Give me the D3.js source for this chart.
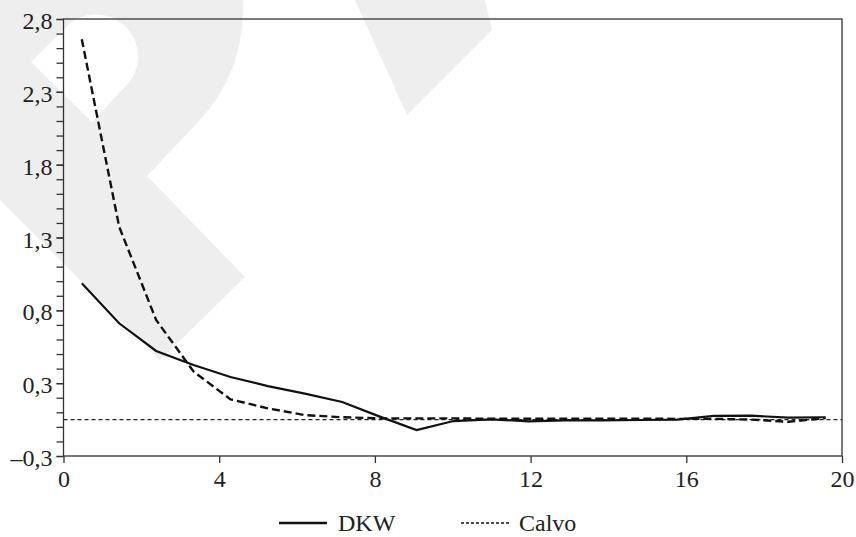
<!DOCTYPE html>
<html>
<head>
<meta charset="utf-8">
<script src="https://cdn.jsdelivr.net/npm/d3@7"></script>
<style>
  body { margin: 0; background: #fff; overflow: hidden; }
  svg { display: block; font-family: "Liberation Serif", "Times New Roman", serif; }
</style>
</head>
<body>
<svg id="chart"></svg>
<script>
// horizon positions of the 21 points
var periods = [0.47, 1.43, 2.38, 3.34, 4.29, 5.25, 6.2, 7.16, 8.11, 9.07, 10.02,
               10.98, 11.94, 12.89, 13.85, 14.8, 15.76, 16.71, 17.67, 18.62, 19.58]

var dkw = [0.986, 0.711, 0.521, 0.425, 0.342, 0.28, 0.228, 0.171, 0.072, -0.022, 0.04,
           0.052, 0.038, 0.044, 0.044, 0.047, 0.05, 0.075, 0.077, 0.063, 0.066]

var calvo = [2.661, 1.374, 0.734, 0.38, 0.189, 0.127, 0.081, 0.066, 0.058, 0.058, 0.058,
             0.056, 0.056, 0.056, 0.056, 0.056, 0.055, 0.055, 0.05, 0.035, 0.06]

var refLevel = 0.05

var yTicks = [-0.2, 0.3, 0.8, 1.3, 1.8, 2.3, 2.8]
var yTickLabels = ["–0,3", "0,3", "0,8", "1,3", "1,8", "2,3", "2,8"]
var xTicks = [0, 4, 8, 12, 16, 20]
var seriesNames = ["DKW", "Calvo"]

var dimensions = { width: 856, height: 537 }
var margin = { top: 19, right: 14, bottom: 81, left: 63.5 }

var svg = d3.select("#chart")
  .attr("width", dimensions.width)
  .attr("height", dimensions.height)

// faint watermark in the background
var wm = svg.append("g").attr("fill", "#eeeeee")
wm.append("path")
  .attr("fill-rule", "evenodd")
  .attr("d", "M0,0 L243,0 C244,45 232,85 200,120 L147,176 L245,277 L160,360 L0,200 Z " +
             "M31,62 L66,27 A42,42 0 0 1 126,86 L92,122 Z")
wm.append("path")
  .attr("d", "M355,0 L485,0 L492,30 L407,115 Z")

var x = d3.scaleLinear()
  .domain([0, 20])
  .range([margin.left, dimensions.width - margin.right])

var y = d3.scaleLinear()
  .domain([-0.2, 2.8])
  .range([dimensions.height - margin.bottom, margin.top])

// frame
svg.append("rect")
  .attr("x", x(0))
  .attr("y", y(2.8))
  .attr("width", x(20) - x(0))
  .attr("height", y(-0.2) - y(2.8))
  .attr("fill", "none")
  .attr("stroke", "#333")
  .attr("stroke-width", 1.3)

// minor y ticks
svg.append("g")
  .attr("transform", "translate(" + x(0) + ",0)")
  .call(d3.axisLeft(y).tickValues(d3.range(0, 31).map(function(i){ return -0.2 + i * 0.1 }))
    .tickSize(7).tickFormat(""))
  .call(function(g){ g.select(".domain").remove() })
  .selectAll("line").attr("stroke", "#333").attr("stroke-width", 1.3)

// y axis labels
var yAxis = svg.append("g")
  .attr("transform", "translate(" + x(0) + ",0)")
  .call(d3.axisLeft(y).tickValues(yTicks).tickSize(7).tickPadding(4)
    .tickFormat(function(d, i){ return yTickLabels[i] }))
yAxis.select(".domain").remove()
yAxis.selectAll("line").attr("stroke", "#333").attr("stroke-width", 1.3)
yAxis.selectAll("text")
  .attr("font-size", 24)
  .attr("font-family", "Liberation Serif")
  .attr("fill", "#222")
  .attr("dy", "0.4em")

var xAxis = svg.append("g")
  .attr("transform", "translate(0," + y(-0.2) + ")")
  .call(d3.axisBottom(x).tickValues(xTicks).tickSize(7).tickPadding(7))
xAxis.select(".domain").remove()
xAxis.selectAll("line").attr("stroke", "#333").attr("stroke-width", 1.3)
xAxis.selectAll("text")
  .attr("font-size", 24)
  .attr("font-family", "Liberation Serif")
  .attr("fill", "#222")

// reference level
svg.append("line")
  .attr("x1", x(0)).attr("x2", x(20))
  .attr("y1", y(refLevel)).attr("y2", y(refLevel))
  .attr("stroke", "#222")
  .attr("stroke-width", 1.1)
  .attr("stroke-dasharray", "4,3")

var line = d3.line()
  .x(function(d){ return x(d[0]) })
  .y(function(d){ return y(d[1]) })

svg.append("path")
  .datum(d3.zip(periods, calvo))
  .attr("d", line)
  .attr("fill", "none")
  .attr("stroke", "#111")
  .attr("stroke-width", 2.4)
  .attr("stroke-dasharray", "8,4")

svg.append("path")
  .datum(d3.zip(periods, dkw))
  .attr("d", line)
  .attr("fill", "none")
  .attr("stroke", "#111")
  .attr("stroke-width", 2.2)

// legend
var legend = svg.append("g")
legend.append("line")
  .attr("x1", 279).attr("x2", 327).attr("y1", 523).attr("y2", 523)
  .attr("stroke", "#111").attr("stroke-width", 2.5)
legend.append("text")
  .attr("x", 338).attr("y", 531)
  .attr("font-size", 24).attr("fill", "#222")
  .text(seriesNames[0])
legend.append("line")
  .attr("x1", 461).attr("x2", 509).attr("y1", 523).attr("y2", 523)
  .attr("stroke", "#111").attr("stroke-width", 1.5)
  .attr("stroke-dasharray", "3,2")
legend.append("text")
  .attr("x", 519).attr("y", 531)
  .attr("font-size", 24).attr("fill", "#222")
  .text(seriesNames[1])
</script>
</body>
</html>
